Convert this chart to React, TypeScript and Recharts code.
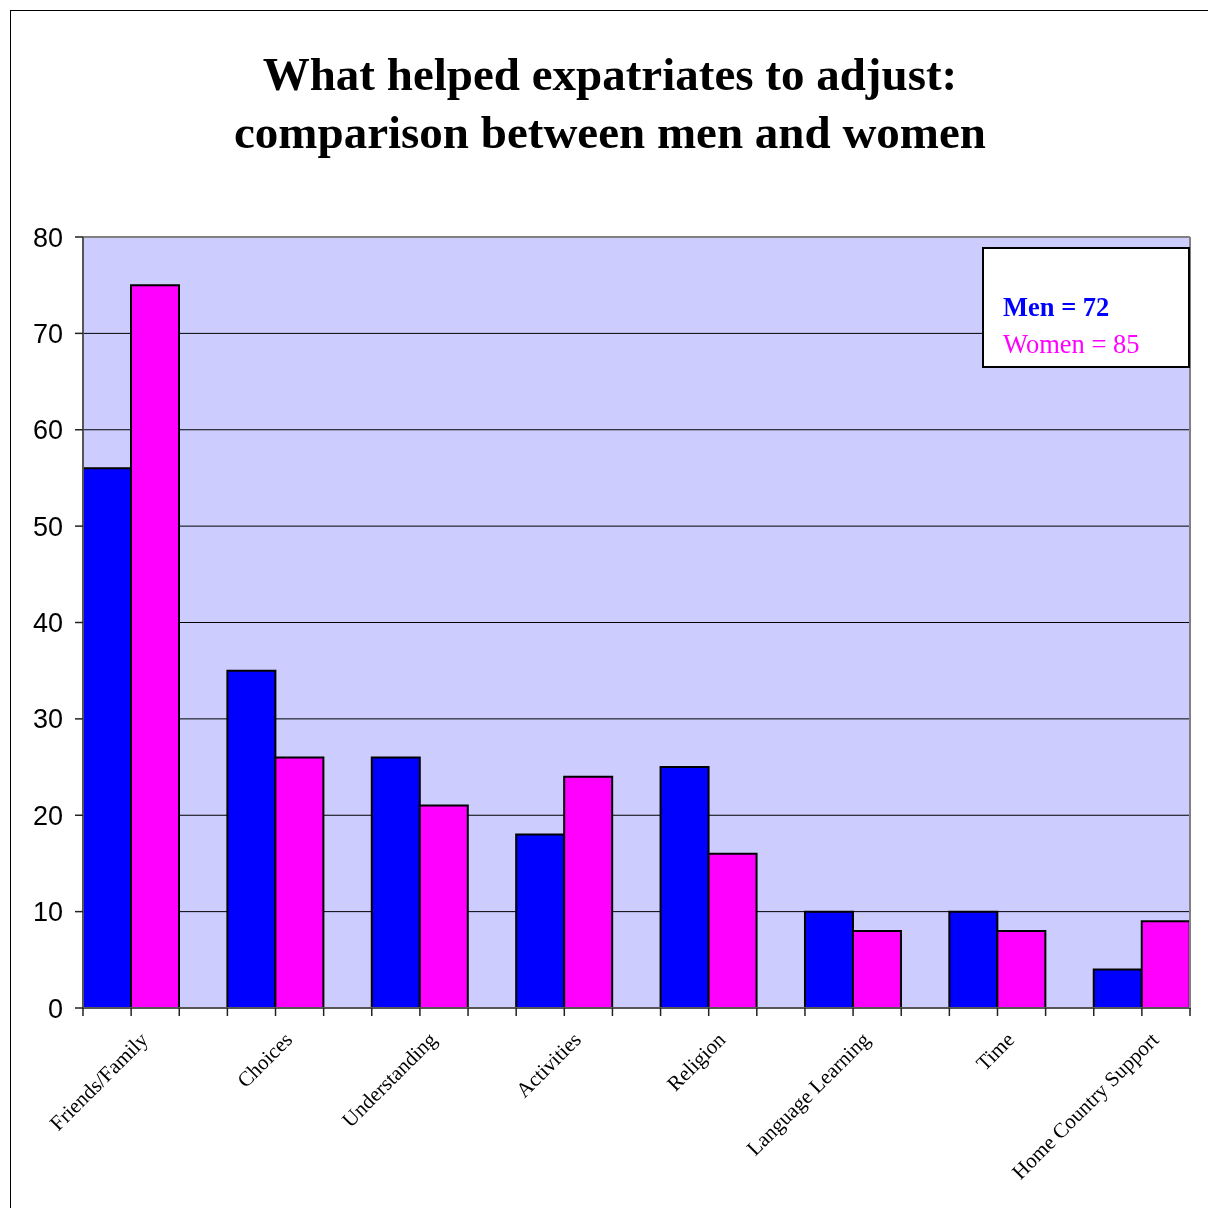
import { BarChart, Bar, XAxis, YAxis, CartesianGrid, ReferenceLine } from 'recharts'

const CATEGORIES = [
  'Friends/Family',
  'Choices',
  'Understanding',
  'Activities',
  'Religion',
  'Language Learning',
  'Time',
  'Home Country Support',
]
const MEN = [56, 35, 26, 18, 25, 10, 10, 4]
const WOMEN = [75, 26, 21, 24, 16, 8, 8, 9]
const Y_TICKS = [0, 10, 20, 30, 40, 50, 60, 70, 80]
// slot edges around each band centre: left of men, men|women, right of women
const SLOT_EDGES = [-1, 0, 1]

const MEN_COLOR = '#0000FF'
const WOMEN_COLOR = '#FF00FF'
const SERIF = '"Liberation Serif", "Times New Roman", serif'
const SANS = '"Liberation Sans", Arial, sans-serif'

const data = CATEGORIES.map((name, i) => ({ name, men: MEN[i], women: WOMEN[i] }))

interface TickProps {
  x: number
  y: number
  payload: { value: string; offset: number }
}

function CategoryTick({ x, y, payload }: TickProps) {
  // a band is three bar slots wide (men, women, gap), so one slot = 2/3 of half a band
  const slot = (2 * payload.offset) / 3
  return (
    <g>
      {SLOT_EDGES.map((k) => (
        <line
          key={k}
          x1={x + k * slot}
          x2={x + k * slot}
          y1={y}
          y2={y + 8}
          stroke="#222"
          strokeWidth={1.5}
        />
      ))}
      <g transform={`translate(${x + 18},${y + 33})`}>
        <text transform="rotate(-45)" textAnchor="end" fontFamily={SERIF} fontSize={21} fill="#000">
          {payload.value}
        </text>
      </g>
    </g>
  )
}

export default function App() {
  return (
    <div style={{ position: 'relative', width: 1200, height: 1192 }}>
      {/* outer frame (right and bottom edges fall outside the picture) */}
      <div
        style={{
          position: 'fixed',
          left: 10,
          top: 10,
          width: 1220,
          height: 1220,
          borderLeft: '1.5px solid #000',
          borderTop: '1.5px solid #000',
          boxSizing: 'border-box',
        }}
      />
      <BarChart
        width={1200}
        height={1192}
        data={data}
        margin={{ top: 229, right: 17, bottom: 191, left: 0 }}
        barGap={0}
        barCategoryGap="16.667%"
        style={{ position: 'absolute', left: 0, top: 0 }}
      >
        <CartesianGrid vertical={false} stroke="#000" strokeWidth={1} fill="#CCCCFF" fillOpacity={1} />
        <XAxis
          dataKey="name"
          height={1}
          interval={0}
          padding={{ left: -24.07, right: -24.07 }}
          axisLine={{ stroke: '#555', strokeWidth: 2 }}
          tickLine={false}
          tickSize={0}
          tickMargin={0}
          tick={CategoryTick}
        />
        <YAxis
          width={75}
          domain={[0, 80]}
          ticks={Y_TICKS}
          interval={0}
          tickSize={8}
          tickMargin={12}
          axisLine={{ stroke: '#555', strokeWidth: 2 }}
          tickLine={{ stroke: '#222', strokeWidth: 1.5 }}
          tick={{ fill: '#000', fontFamily: SANS, fontSize: 27 }}
        />
        <YAxis
          yAxisId="frame"
          orientation="right"
          width={1}
          domain={[0, 80]}
          tick={false}
          tickLine={false}
          axisLine={{ stroke: '#808080', strokeWidth: 2 }}
        />
        <Bar dataKey="men" fill={MEN_COLOR} stroke="#000" strokeWidth={2} isAnimationActive={false} />
        <Bar dataKey="women" fill={WOMEN_COLOR} stroke="#000" strokeWidth={2} isAnimationActive={false} />
        <ReferenceLine y={80} stroke="#808080" strokeWidth={2} />
      </BarChart>
      <svg
        width={1200}
        height={1192}
        style={{ position: 'absolute', left: 0, top: 0, pointerEvents: 'none' }}
      >
        <text x={602} y={82} textAnchor="middle" fontFamily={SERIF} fontWeight="bold" fontSize={47} fill="#000">
          What helped expatriates to adjust:
        </text>
        <text x={602} y={140} textAnchor="middle" fontFamily={SERIF} fontWeight="bold" fontSize={47} fill="#000">
          comparison between men and women
        </text>
        <rect x={975} y={240} width={206} height={119} fill="#fff" stroke="#000" strokeWidth={2} />
        <text x={995} y={308} fontFamily={SERIF} fontWeight="bold" fontSize={26.5} fill={MEN_COLOR}>
          Men = 72
        </text>
        <text x={995} y={345} fontFamily={SERIF} fontSize={26.5} fill={WOMEN_COLOR}>
          Women = 85
        </text>
      </svg>
    </div>
  )
}
